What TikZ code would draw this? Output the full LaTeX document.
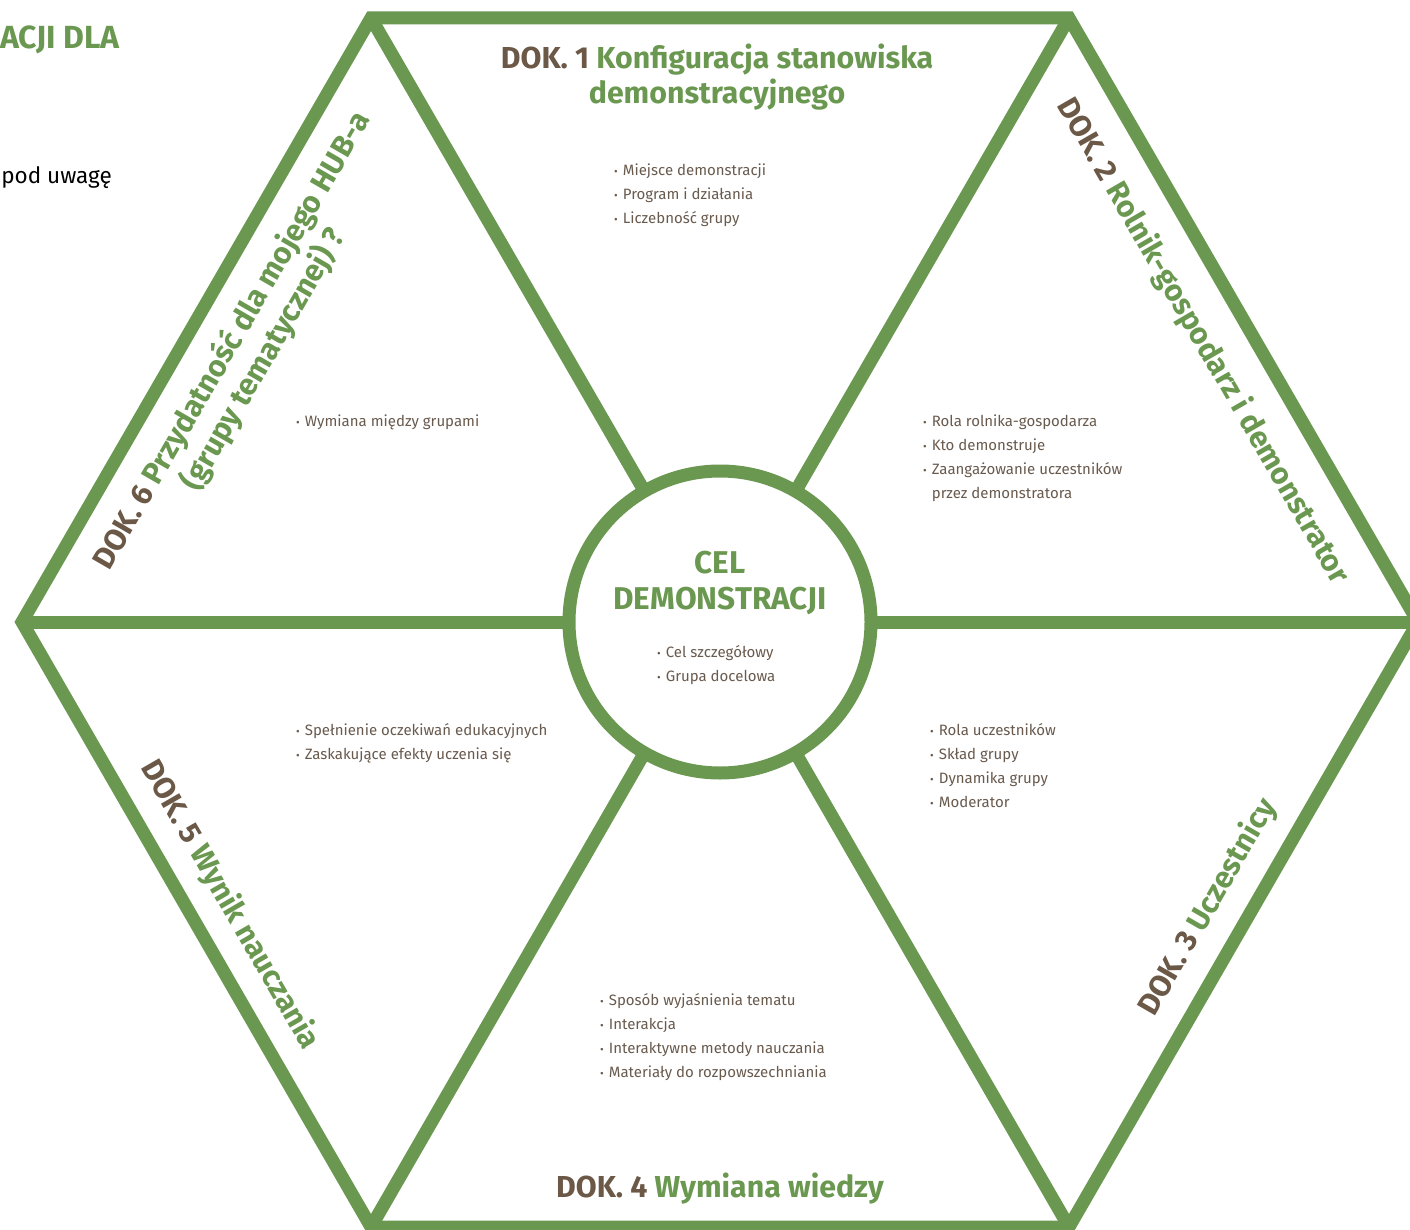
\documentclass[tikz,border=0pt]{standalone}
\usepackage{fontspec}
\setmainfont{Fira Sans}
\usepackage{graphicx}
\definecolor{hexgreen}{RGB}{107,152,80}
\definecolor{dokbrown}{RGB}{107,88,70}
\definecolor{txtbrown}{RGB}{105,90,78}
\newcommand\bul{\scalebox{0.75}{•}\hspace{5pt}}
\begin{document}
\begin{tikzpicture}[x=1pt,y=-1pt,
  hex/.style={draw=hexgreen,line width=13pt},
  dok/.style={font=\fontsize{30.3}{37}\selectfont\bfseries, text=hexgreen, inner sep=0pt},
  item/.style={font=\fontsize{15}{24}\selectfont, text=txtbrown, anchor=base west, inner sep=0pt}]
\useasboundingbox (0,0) rectangle (1410,1230);
\clip (0,0) rectangle (1410,1230);
\fill[white] (0,0) rectangle (1410,1230);
% hexagon
\coordinate (V1) at (371,18);
\coordinate (V2) at (1069,18);
\coordinate (V3) at (1418,622);
\coordinate (V4) at (1069,1227);
\coordinate (V5) at (371,1227);
\coordinate (V6) at (22,622);
\draw[hex, line join=miter] (V1) -- (V2) -- (V3) -- (V4) -- (V5) -- (V6) -- cycle;
\node[circle, draw=hexgreen, fill=white, line width=13pt, minimum size=302pt, inner sep=0pt, outer sep=0pt] (ring) at (720,622) {};
\foreach \v in {V1,V2,V3,V4,V5,V6} \draw[hex] (\v) -- (ring);
% clipped page text
\node[font=\fontsize{32}{38}\selectfont\bfseries, text=hexgreen, anchor=base east, inner sep=0pt] (pg1) at (120,49) {ACJI DLA};
\node[font=\fontsize{22.5}{26}\selectfont, text=black, anchor=base east, inner sep=0pt] (pg2) at (112,184) {pod uwagę};
% headings
\node[dok, anchor=base] (t1a) at (717,69) {{\color{dokbrown}DOK. 1} Konfiguracja stanowiska};
\node[dok, anchor=base] (t1b) at (717,104) {demonstracyjnego};
\node[dok, rotate=-60] (t2) at (1203,341) {{\color{dokbrown}DOK. 2} Rolnik-gospodarz i demonstrator};
\node[dok, rotate=60] (t3) at (1208,907) {{\color{dokbrown}DOK. 3} Uczestnicy};
\node[dok, anchor=base] (t4) at (720,1197) {{\color{dokbrown}DOK. 4} Wymiana wiedzy};
\node[dok, rotate=-60] (t5) at (230,905) {{\color{dokbrown}DOK. 5} Wynik nauczania};
\node[dok, rotate=60, align=center] (t6) at (248,350) {{\color{dokbrown}DOK. 6} Przydatność dla mojego HUB-a\\(grupy tematycznej) ?};
\node[dok, font=\fontsize{31.5}{37}\selectfont\bfseries, anchor=base] (c1) at (720,573) {CEL};
\node[dok, font=\fontsize{31.5}{37}\selectfont\bfseries, anchor=base] (c2) at (720,609) {DEMONSTRACJI};
% bullet lists
\foreach \t [count=\i] in {Miejsce demonstracji, Program i działania, Liczebność grupy}
  \node[item] (d1-\i) at (614,152+24*\i) {\bul\t};
\foreach \t [count=\i] in {Rola rolnika-gospodarza, Kto demonstruje, Zaangażowanie uczestników}
  \node[item] (d2-\i) at (923,402+24*\i) {\bul\t};
\node[item] (d2-4) at (923,498) {\phantom{\bul}przez demonstratora};
\foreach \t [count=\i] in {Rola uczestników, Skład grupy, Dynamika grupy, Moderator}
  \node[item] (d3-\i) at (930,711+24*\i) {\bul\t};
\foreach \t [count=\i] in {Sposób wyjaśnienia tematu, Interakcja, Interaktywne metody nauczania, Materiały do rozpowszechniania}
  \node[item] (d4-\i) at (600,981+24*\i) {\bul\t};
\foreach \t [count=\i] in {Spełnienie oczekiwań edukacyjnych, Zaskakujące efekty uczenia się}
  \node[item] (d5-\i) at (296,711+24*\i) {\bul\t};
\node[item] (d6-1) at (296,426) {\bul Wymiana między grupami};
\foreach \t [count=\i] in {Cel szczegółowy, Grupa docelowa}
  \node[item] (d0-\i) at (657,633+24*\i) {\bul\t};
\end{tikzpicture}
\end{document}
